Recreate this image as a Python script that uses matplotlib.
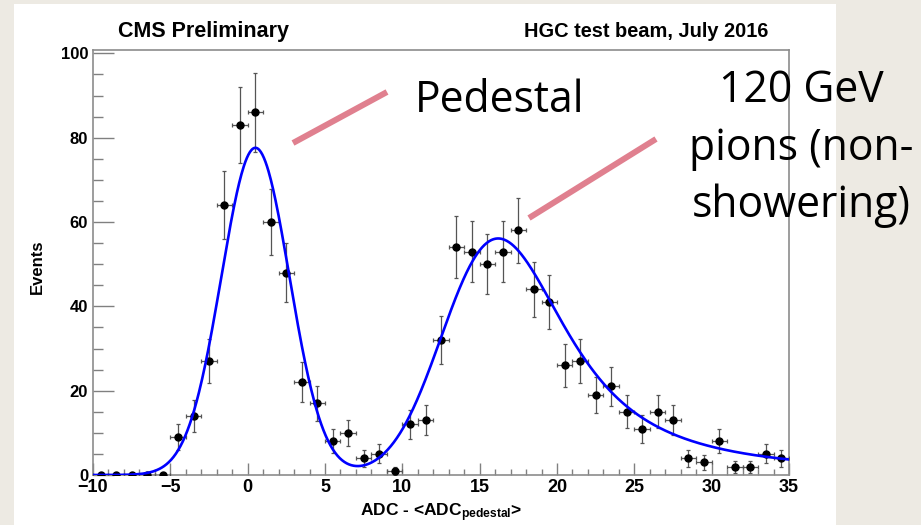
import numpy as np
import matplotlib
matplotlib.use('Agg')
import matplotlib.pyplot as plt
from matplotlib.lines import Line2D
from matplotlib.patches import Rectangle

# bin centres and counts
adc = np.arange(-9.5, 35, 1.0)
events = [0, 0, 0, 0, 0, 9, 14, 27, 64, 83,
          86, 60, 48, 22, 17, 8, 10, 4, 5, 1,
          12, 13, 32, 54, 53, 50, 53, 58, 44, 41,
          26, 27, 19, 21, 15, 11, 15, 13, 4, 3,
          8, 2, 2, 5, 4]

# fit: gaussian pedestal + landau (x) gaussian for the MIP peak
ped_amp, ped_mean, ped_sigma = 77.6, 0.5, 2.2
mip_amp, mip_mpv, mip_width, mip_smear = 56.1, 15.5, 1.57, 2.6


def landau(lam):
    out = np.empty_like(lam)
    core = lam >= -2.5
    t = np.arange(1, 15001) * 0.002
    lc = lam[core]
    vals = []
    for i in range(0, len(lc), 200):
        l = lc[i:i + 200]
        f = np.exp(-t * np.log(t) - l[:, None] * t) * np.sin(np.pi * t)
        vals.append(np.trapezoid(f, t, axis=1) / np.pi)
    out[core] = np.concatenate(vals) if vals else []
    u = lam[~core] + 1
    out[~core] = np.exp(-u / 2 - np.exp(-u)) / np.sqrt(2 * np.pi)
    return out


xe = np.arange(-25, 50.0001, 0.05)
lan = landau((xe - mip_mpv) / mip_width)
kx = np.arange(-15, 15.0001, 0.05)
kern = np.exp(-0.5 * (kx / mip_smear) ** 2)
conv = np.convolve(lan, kern, mode='same')
conv = conv / conv.max()
fit = ped_amp * np.exp(-0.5 * ((xe - ped_mean) / ped_sigma) ** 2) + mip_amp * conv
sel = (xe >= -10) & (xe <= 35)

plt.rcParams['font.family'] = ['Liberation Sans', 'DejaVu Sans']
plt.rcParams['font.weight'] = 'bold'
plt.rcParams['mathtext.fontset'] = 'custom'
plt.rcParams['mathtext.rm'] = 'Liberation Sans:bold'
plt.rcParams['mathtext.default'] = 'rm'

fig = plt.figure(figsize=(9.21, 5.25), dpi=100)
fig.patch.set_facecolor('#EDEAE3')
fig.patches.append(Rectangle((14 / 921, 0), 822 / 921, 521 / 525,
                             transform=fig.transFigure, facecolor='white',
                             edgecolor='none', zorder=-5))

ax = fig.add_axes([93 / 921, 50 / 525, 696 / 921, 425 / 525])
ax.set_facecolor('white')

err = np.sqrt(events)
ax.errorbar(adc, events, xerr=0.5, yerr=err, fmt='o', color='black',
            ecolor='#555555', elinewidth=0.9, capsize=1.6, capthick=0.9,
            markersize=5, zorder=3)
ax.plot(xe[sel], fit[sel], color='#0000FF', lw=1.9, zorder=4)

ax.set_xlim(-10, 35)
ax.set_ylim(0, 100.8)
ax.set_xticks(np.arange(-10, 36, 5))
ax.set_xticks(np.arange(-10, 36, 1), minor=True)
ax.set_yticks(np.arange(0, 101, 20))
ax.set_yticks(np.arange(0, 101, 5), minor=True)
ax.tick_params(axis='both', which='both', direction='in', color='#808080', width=1)
ax.tick_params(axis='x', which='major', length=8.6, labelsize=13, pad=3)
ax.tick_params(axis='x', which='minor', length=4.3)
ax.tick_params(axis='y', which='major', length=15, labelsize=12, pad=3.5)
ax.tick_params(axis='y', which='minor', length=7.2)
for s in ax.spines.values():
    s.set_color('#8C8C8C')
    s.set_linewidth(1.2)

ax.set_xlabel('ADC - <ADC$_{pedestal}$>', fontsize=12.5, fontweight='bold', labelpad=4)
ax.set_ylabel('Events', fontsize=12, fontweight='bold')
ax.yaxis.set_label_coords(-0.069, 0.49)

fig.text(118 / 921, 1 - 37 / 525, 'CMS Preliminary', fontsize=15.5,
         fontweight='bold', ha='left', va='baseline')
fig.text(768 / 921, 1 - 37 / 525, 'HGC test beam, July 2016', fontsize=14.4,
         fontweight='bold', ha='right', va='baseline')

# slide annotations
pink = '#E0808F'
fig.add_artist(Line2D([293 / 921, 387 / 921], [1 - 143 / 525, 1 - 92 / 525],
                      transform=fig.transFigure, color=pink, lw=4.3,
                      solid_capstyle='butt'))
fig.add_artist(Line2D([529 / 921, 656 / 921], [1 - 218 / 525, 1 - 139 / 525],
                      transform=fig.transFigure, color=pink, lw=4.3,
                      solid_capstyle='butt'))
afont = ['Open Sans', 'DejaVu Sans']
fig.text(415 / 921, 1 - 111.7 / 525, 'Pedestal', fontsize=30.7, family=afont,
         fontweight='normal', ha='left', va='baseline')
for txt, yb in [('120 GeV', 101.7), ('pions (non-', 160), ('showering)', 216.7)]:
    fig.text(801 / 921, 1 - yb / 525, txt, fontsize=30.7, family=afont,
             fontweight='normal', ha='center', va='baseline')

fig.savefig('out.png', dpi=100, facecolor=fig.get_facecolor())
